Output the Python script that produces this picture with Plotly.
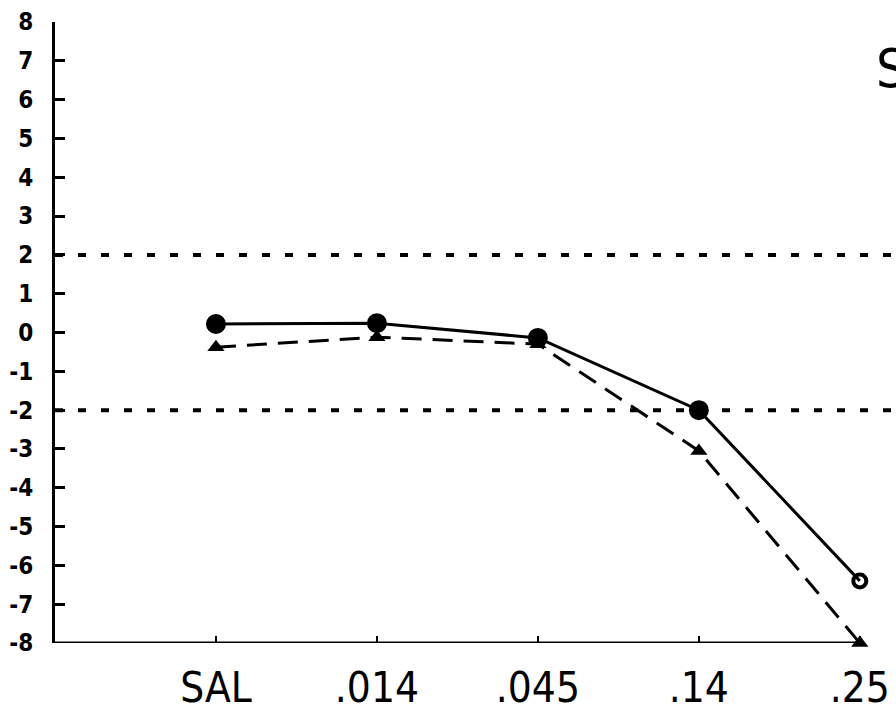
import plotly.graph_objects as go

categories = ["SAL", ".014", ".045", ".14", ".25"]
solid_values = [0.22, 0.24, -0.14, -2.0, -6.4]
dashed_values = [-0.38, -0.12, -0.3, -3.05, -8.0]
y_ticks = list(range(-8, 9))
y_tick_labels = [str(v) for v in y_ticks]
ref_levels = [2, -2]

LBL_FONT = "DejaVu Sans Condensed, Liberation Sans Narrow, DejaVu Sans, sans-serif"

fig = go.Figure()

for lvl in ref_levels:
    fig.add_shape(type="line", xref="x", yref="y", x0=-1, x1=4.2, y0=lvl, y1=lvl,
                  line=dict(color="black", width=4, dash="8px,15px"), layer="below")

# x-axis baseline (ends at last category)
fig.add_shape(type="line", xref="x", yref="y", x0=-1, x1=4, y0=-8, y1=-8,
              line=dict(color="black", width=3))

fig.add_trace(go.Scatter(
    x=categories, y=dashed_values, mode="lines+markers",
    line=dict(color="black", width=3, dash="20px,11px"),
    marker=dict(symbol="triangle-up", size=15, color="black", opacity=1),
    cliponaxis=False, showlegend=False))

fig.add_trace(go.Scatter(
    x=categories, y=solid_values, mode="lines+markers",
    line=dict(color="black", width=3),
    marker=dict(symbol=["circle"] * 4 + ["circle-open"], size=[16, 16, 16, 16, 13],
                color="black", opacity=1, line=dict(color="black", width=4)),
    cliponaxis=False, showlegend=False))

fig.add_annotation(text="S", xref="paper", yref="paper", x=0.978, y=0.925,
                   xanchor="left", yanchor="middle", showarrow=False,
                   font=dict(family="DejaVu Sans Condensed, DejaVu Sans, sans-serif",
                             size=54, color="black"))

fig.update_layout(
    width=896, height=712,
    margin=dict(l=55, r=4, t=22, b=69, autoexpand=False),
    paper_bgcolor="white", plot_bgcolor="white",
    xaxis=dict(type="category", categoryorder="array", categoryarray=categories,
               range=[-1, 4.2], showgrid=False, zeroline=False, showline=False,
               ticks="inside", ticklen=7, tickwidth=2, tickcolor="black",
               tickfont=dict(family=LBL_FONT, size=42, color="black"),
               ticklabelstandoff=16),
    yaxis=dict(range=[-8, 8], tickvals=y_ticks, ticktext=y_tick_labels,
               showgrid=False, zeroline=False, showline=True, linecolor="black",
               linewidth=3, ticks="inside", ticklen=10, tickwidth=3,
               tickcolor="black",
               tickfont=dict(family="DejaVu Sans Condensed, DejaVu Sans, sans-serif",
                             size=24, color="black", weight="bold"),
               ticklabelstandoff=14),
)

fig.write_html("out.html", config={"displayModeBar": False},
               post_script="document.body.style.margin='0';document.body.style.overflow='hidden';")
